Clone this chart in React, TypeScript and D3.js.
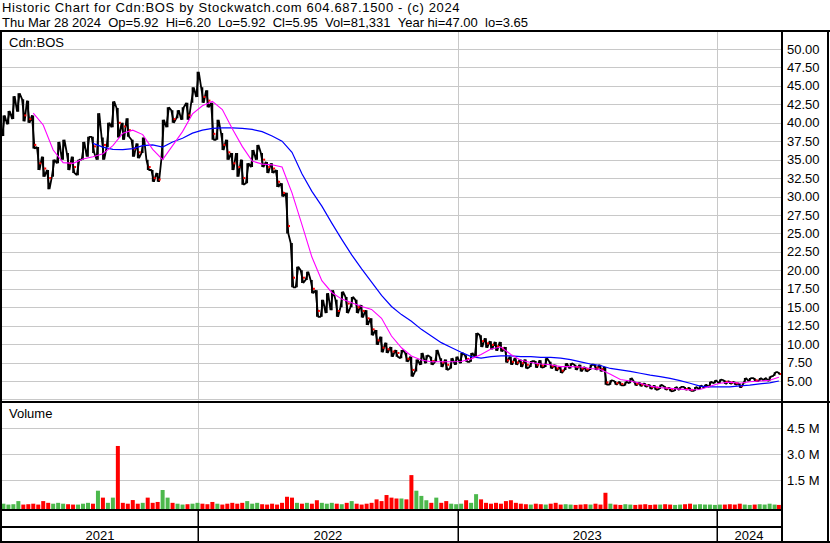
import React from "react";
import * as d3 from "d3";

const W = 830;
const H = 543;

const titleLine1 = "Historic Chart for Cdn:BOS by Stockwatch.com 604.687.1500 - (c) 2024";
const titleLine2 = "Thu Mar 28 2024  Op=5.92  Hi=6.20  Lo=5.92  Cl=5.95  Vol=81,331  Year hi=47.00  lo=3.65";
const symbolLabel = "Cdn:BOS";
const volumeLabel = "Volume";

const priceTicks = [50, 47.5, 45, 42.5, 40, 37.5, 35, 32.5, 30, 27.5, 25, 22.5, 20, 17.5, 15, 12.5, 10, 7.5, 5];
const priceGridExtra = [2.5];
const volumeTicks = [1.5, 3.0, 4.5];
const yearLabels = ["2021", "2022", "2023", "2024"];
const yearBounds = ["2021-03-31", "2022-01-01", "2023-01-01", "2024-01-01", "2024-03-31"];

const firstWeek = "2021-04-02";
const lastDay = "2024-03-28";

// weekly high / low / close (CAD)
const hi = [41.0, 41.6, 43.6, 44.0, 43.2, 43.0, 41.0, 36.7, 35.4, 33.6,
  35.0, 37.4, 37.7, 35.9, 35.4, 35.0, 37.4, 38.1, 38.1, 41.3,
  38.0, 40.0, 42.9, 42.0, 40.0, 40.6, 37.7, 37.2, 38.0, 35.0,
  33.6, 33.2, 40.4, 42.1, 41.7, 41.7, 42.1, 42.7, 44.8, 46.9,
  44.8, 44.4, 42.7, 40.4, 38.6, 37.7, 35.9, 35.9, 35.0, 34.5,
  36.3, 37.0, 35.9, 34.7, 34.5, 33.6, 31.8, 30.5, 23.7, 20.5,
  20.0, 19.8, 18.7, 17.3, 16.0, 16.9, 17.3, 16.0, 17.1, 16.4,
  16.4, 16.0, 15.3, 14.6, 13.5, 11.9, 11.0, 10.2, 9.6, 9.2,
  9.2, 8.8, 8.3, 7.9, 8.8, 8.5, 8.3, 9.2, 8.1, 7.9,
  8.1, 8.3, 8.8, 8.5, 8.8, 11.5, 11.2, 10.8, 10.4, 10.3,
  10.3, 9.6, 8.3, 8.1, 7.9, 7.9, 7.7, 7.7, 7.8, 8.1,
  7.6, 7.2, 6.9, 7.4, 7.4, 7.2, 7.2, 6.9, 7.2, 7.2,
  7.2, 6.9, 5.1, 5.0, 4.9, 4.9, 5.4, 4.9, 4.8, 4.7,
  4.5, 4.4, 4.5, 4.3, 4.1, 4.2, 4.2, 4.2, 4.1, 4.2,
  4.4, 4.5, 4.9, 5.1, 5.2, 5.1, 5.0, 4.9, 4.7, 5.4,
  5.4, 5.4, 5.4, 5.4, 5.6, 6.2, 6.2];
const lo = [38.2, 39.8, 40.5, 41.5, 40.2, 40.0, 36.5, 33.6, 32.7, 31.0,
  32.7, 34.5, 35.0, 33.6, 33.2, 32.9, 35.0, 35.4, 35.9, 35.0,
  35.0, 36.7, 39.4, 38.0, 37.7, 38.1, 35.4, 35.2, 35.9, 33.6,
  32.0, 32.0, 35.0, 39.4, 40.0, 40.6, 40.4, 40.4, 42.7, 43.5,
  42.7, 42.1, 37.7, 37.7, 36.3, 35.0, 33.6, 32.7, 31.6, 31.8,
  34.0, 35.0, 34.0, 33.2, 33.2, 31.3, 30.0, 25.0, 17.7, 17.7,
  18.3, 18.7, 16.9, 13.7, 13.7, 14.2, 14.6, 13.7, 15.0, 14.2,
  15.0, 14.2, 13.6, 12.6, 11.2, 9.9, 8.9, 8.8, 8.3, 8.3,
  8.1, 7.6, 5.6, 6.3, 7.2, 7.4, 7.2, 7.6, 6.9, 6.5,
  6.7, 7.2, 7.4, 7.6, 7.6, 8.3, 9.6, 9.5, 9.3, 9.1,
  9.0, 7.5, 7.2, 7.2, 6.9, 6.7, 6.9, 6.8, 6.8, 6.9,
  6.7, 6.4, 6.1, 6.5, 6.7, 6.5, 6.3, 6.3, 6.5, 6.5,
  6.3, 4.5, 4.5, 4.5, 4.4, 4.4, 4.7, 4.4, 4.3, 4.2,
  3.9, 3.8, 3.9, 3.8, 3.6, 3.65, 3.8, 3.8, 3.65, 3.65,
  3.9, 4.1, 4.2, 4.7, 4.7, 4.6, 4.6, 4.5, 4.1, 4.7,
  5.0, 5.0, 5.0, 5.1, 5.0, 5.7, 5.9];
const close = [39.5, 40.5, 42.5, 42.8, 41.0, 40.5, 37.0, 34.5, 33.8, 32.5,
  34.5, 36.0, 36.2, 34.5, 34.0, 34.2, 36.5, 37.0, 36.8, 38.0,
  37.0, 38.5, 41.5, 40.0, 39.5, 39.0, 36.5, 36.0, 37.0, 34.0,
  32.5, 32.3, 39.0, 41.0, 40.5, 41.0, 41.5, 41.0, 44.0, 44.5,
  43.5, 43.0, 38.5, 39.5, 37.0, 36.0, 34.5, 34.0, 32.5, 33.5,
  35.5, 36.0, 35.0, 34.0, 33.8, 32.0, 30.5, 26.0, 19.0, 19.2,
  19.0, 19.2, 17.5, 14.5, 14.8, 15.5, 16.0, 14.5, 16.0, 15.5,
  15.7, 15.0, 14.5, 13.5, 12.0, 10.5, 9.5, 9.3, 9.0, 8.8,
  8.9, 8.0, 6.5, 7.0, 8.0, 8.1, 7.7, 8.2, 7.5, 7.2,
  7.3, 7.8, 8.2, 8.0, 8.3, 10.6, 10.4, 10.1, 9.9, 9.7,
  9.4, 7.8, 7.6, 7.5, 7.4, 7.2, 7.3, 7.2, 7.1, 7.4,
  7.0, 6.7, 6.4, 6.9, 7.1, 6.9, 6.7, 6.6, 6.9, 6.8,
  6.6, 4.8, 4.8, 4.7, 4.6, 4.7, 5.0, 4.6, 4.5, 4.4,
  4.2, 4.1, 4.2, 4.0, 3.9, 3.9, 4.0, 3.9, 3.8, 4.0,
  4.2, 4.3, 4.7, 4.9, 5.0, 4.9, 4.8, 4.7, 4.3, 5.1,
  5.2, 5.1, 5.2, 5.3, 5.3, 6.0, 5.95];

// weekly volume (millions of shares)
const volume = [0.15, 0.1, 0.12, 0.3, 0.1, 0.12, 0.15, 0.1, 0.3, 0.2,
  0.15, 0.2, 0.15, 0.12, 0.1, 0.1, 0.15, 0.2, 0.15, 0.9,
  0.5, 0.2, 0.5, 3.48, 0.2, 0.15, 0.36, 0.15, 0.2, 0.5,
  0.2, 0.25, 0.94, 0.5, 0.2, 0.15, 0.1, 0.12, 0.15, 0.2,
  0.15, 0.12, 0.25, 0.15, 0.1, 0.15, 0.2, 0.15, 0.2, 0.3,
  0.15, 0.2, 0.12, 0.1, 0.15, 0.1, 0.2, 0.55, 0.5, 0.2,
  0.15, 0.2, 0.15, 0.35, 0.2, 0.15, 0.2, 0.15, 0.12, 0.2,
  0.3, 0.15, 0.1, 0.15, 0.2, 0.4, 0.3, 0.65, 0.5, 0.45,
  0.45, 0.4, 1.8, 0.9, 0.6, 0.35, 0.2, 0.5, 0.2, 0.3,
  0.15, 0.12, 0.15, 0.35, 0.2, 0.7, 0.4, 0.2, 0.15, 0.2,
  0.15, 0.3, 0.35, 0.2, 0.15, 0.12, 0.1, 0.15, 0.12, 0.1,
  0.15, 0.2, 0.1, 0.12, 0.1, 0.08, 0.1, 0.12, 0.1, 0.15,
  0.1, 0.78, 0.15, 0.1, 0.08, 0.12, 0.1, 0.08, 0.1, 0.12,
  0.08, 0.1, 0.1, 0.12, 0.1, 0.08, 0.1, 0.12, 0.15, 0.1,
  0.12, 0.1, 0.1, 0.08, 0.1, 0.1, 0.12, 0.1, 0.15, 0.1,
  0.08, 0.1, 0.12, 0.1, 0.15, 0.1, 0.08];

// moving averages, read every second week
const maFastStart = 6;
const maFast = [41.3, 39.7, 36.3, 34.6, 34.5, 35.1, 35.4, 35.8, 36.9, 38.6,
  39.0, 38.4, 36.4, 35.0, 36.9, 38.8, 41.2, 42.3, 42.9, 41.8,
  39.2, 36.8, 34.8, 34.4, 34.3, 34.0, 30.5, 26.2, 21.8, 18.6,
  17.0, 16.1, 15.6, 15.1, 14.7, 13.5, 11.1, 9.5, 8.4, 7.85,
  7.6, 7.6, 7.6, 7.65, 8.0, 8.6, 9.35, 9.6, 8.6, 7.8,
  7.5, 7.3, 7.2, 6.95, 6.95, 6.9, 6.7, 6.55, 5.9, 5.2,
  5.0, 4.7, 4.3, 4.1, 4.0, 3.9, 3.8, 3.85, 4.3, 4.7,
  4.85, 4.7, 4.9, 5.0, 5.1, 5.5];
const maSlowStart = 18;
const maSlow = [37.2, 36.7, 36.4, 36.35, 36.5, 36.9, 37.0, 36.7, 37.4, 37.9,
  38.6, 39.0, 39.25, 39.3, 39.3, 39.25, 39.1, 38.8, 38.2, 37.5,
  36.0, 33.1, 30.7, 28.7, 26.4, 24.2, 22.1, 20.2, 18.4, 16.6,
  15.1, 14.0, 13.1, 12.0, 11.1, 10.2, 9.55, 8.9, 8.3, 8.1,
  8.3, 8.4, 8.4, 8.3, 8.3, 8.2, 8.2, 8.1, 7.9, 7.6,
  7.3, 7.1, 6.7, 6.5, 6.3, 6.05, 5.8, 5.6, 5.35, 5.05,
  4.7, 4.3, 4.2, 4.2, 4.2, 4.35, 4.45, 4.6, 4.75, 5.0];

const FONT = "Arial, 'Liberation Sans', sans-serif";

function keepSpaces(s: string): string {
  return s.replace(/ {2}/g, " \u00A0");
}

export default function App() {
  const parse = d3.timeParse("%Y-%m-%d");
  const start = parse(firstWeek) as Date;
  const dates: Date[] = hi.map((_, i) =>
    i === hi.length - 1 ? (parse(lastDay) as Date) : d3.timeDay.offset(start, 7 * i)
  );
  const bounds = yearBounds.map((s) => parse(s) as Date);

  const plotL = 2;
  const plotR = 781;
  const x = d3.scaleTime().domain([bounds[0], bounds[bounds.length - 1]]).range([plotL, plotR]);
  const yP = d3.scaleLinear().domain([5, 50]).range([381, 49]);
  const yV = d3.scaleLinear().domain([0, 4.5]).range([506.3, 428.3]);

  const priceTop = 32;
  const priceBot = 400.5;
  const volTop = 403;
  const volBot = 509;

  const idx = d3.range(hi.length);

  // scribble through each week's range, in the direction of the week's move
  let scribble = "";
  idx.forEach((i) => {
    const cx = x(dates[i]);
    const up = i === 0 ? true : close[i] >= close[i - 1];
    const a = up ? yP(lo[i]) : yP(hi[i]);
    const b = up ? yP(hi[i]) : yP(lo[i]);
    scribble += (i === 0 ? "M" : "L") + (cx - 1.3) + "," + a + "L" + (cx + 1.3) + "," + b;
  });

  const fastLine = d3
    .line<number>()
    .x((v, j) => x(dates[maFastStart + 2 * j]))
    .y((v) => yP(v));
  const slowLine = d3
    .line<number>()
    .x((v, j) => x(dates[maSlowStart + 2 * j]))
    .y((v) => yP(v));

  const gridColor = "#c8c8c8";
  const innerYears = bounds.slice(1, bounds.length - 1);

  return (
    <svg width={W} height={H} style={{ display: "block", position: "absolute", left: 0, top: 0, background: "#fff" }}>
      <defs>
        <clipPath id="pclip">
          <rect x={plotL} y={priceTop} width={plotR - plotL} height={priceBot - priceTop} />
        </clipPath>
        <clipPath id="vclip">
          <rect x={plotL} y={volTop} width={plotR - plotL} height={volBot - volTop} />
        </clipPath>
      </defs>
      <rect x={0} y={0} width={W} height={H} fill="#fff" />

      {/* title */}
      <text x={2} y={12} fontFamily={FONT} fontSize={13} fill="#000" style={{ letterSpacing: "0.65px" }}>
        {titleLine1}
      </text>
      <text x={2} y={26.5} fontFamily={FONT} fontSize={13} fill="#000">
        {keepSpaces(titleLine2)}
      </text>

      {/* price grid */}
      {[...priceTicks, ...priceGridExtra].map((t) => (
        <line key={"pg" + t} x1={plotL} x2={plotR} y1={Math.round(yP(t)) + 0.5} y2={Math.round(yP(t)) + 0.5} stroke={gridColor} strokeWidth={1} />
      ))}
      {innerYears.map((d, i) => (
        <line key={"pv" + i} x1={Math.round(x(d)) + 0.5} x2={Math.round(x(d)) + 0.5} y1={priceTop} y2={priceBot} stroke={gridColor} strokeWidth={1} />
      ))}
      {/* volume grid */}
      {volumeTicks.map((t) => (
        <line key={"vg" + t} x1={plotL} x2={plotR} y1={Math.round(yV(t)) + 0.5} y2={Math.round(yV(t)) + 0.5} stroke={gridColor} strokeWidth={1} />
      ))}
      {innerYears.map((d, i) => (
        <line key={"vv" + i} x1={Math.round(x(d)) + 0.5} x2={Math.round(x(d)) + 0.5} y1={volTop} y2={volBot} stroke={gridColor} strokeWidth={1} />
      ))}

      <text x={9} y={46.5} fontFamily={FONT} fontSize={13} fill="#000">{symbolLabel}</text>
      <text x={9} y={418} fontFamily={FONT} fontSize={13} fill="#000">{volumeLabel}</text>

      {/* price bars */}
      <g clipPath="url(#pclip)">
        <path d={scribble} fill="none" stroke="#000" strokeWidth={1.8} strokeLinejoin="bevel" />
        {idx.map((i) => (
          <line key={"b" + i} x1={x(dates[i])} x2={x(dates[i])} y1={yP(hi[i])} y2={yP(lo[i])} stroke="#000" strokeWidth={1.7} />
        ))}
        {idx.map((i) =>
          i > 0 && close[i] < close[i - 1] ? (
            <rect key={"c" + i} x={x(dates[i]) + 1} y={yP(close[i]) - 1} width={2} height={2} fill="#ff0000" />
          ) : null
        )}
        <path d={slowLine(maSlow) || ""} fill="none" stroke="#0000ff" strokeWidth={1.2} />
        <path d={fastLine(maFast) || ""} fill="none" stroke="#ff00ff" strokeWidth={1.1} />
      </g>

      {/* volume bars */}
      <g clipPath="url(#vclip)">
        {idx.map((i) => {
          const up = i === 0 ? true : close[i] >= close[i - 1];
          const top = yV(volume[i]);
          return (
            <rect key={"v" + i} x={x(dates[i]) - 2} y={top} width={4} height={volBot - top} fill={up ? "#4cb84c" : "#ff0000"} />
          );
        })}
      </g>

      {/* axis labels */}
      {priceTicks.map((t) => (
        <text key={"pl" + t} x={787} y={yP(t) + 4.5} fontFamily={FONT} fontSize={13} fill="#000">
          {t.toFixed(2)}
        </text>
      ))}
      {volumeTicks.map((t) => (
        <text key={"vl" + t} x={787} y={yV(t) + 4.5} fontFamily={FONT} fontSize={13} fill="#000">
          {t.toFixed(1) + " M"}
        </text>
      ))}
      {yearLabels.map((lab, i) => (
        <text key={"yl" + lab} x={(x(bounds[i]) + x(bounds[i + 1])) / 2} y={539.5} textAnchor="middle" fontFamily={FONT} fontSize={13} fill="#000">
          {lab}
        </text>
      ))}

      {/* frame */}
      <rect x={0} y={30} width={W} height={2} fill="#000" />
      <rect x={0} y={30} width={2} height={513} fill="#000" />
      <rect x={781} y={30} width={2} height={513} fill="#000" />
      <rect x={827} y={30} width={2} height={513} fill="#000" />
      <rect x={0} y={401} width={W} height={2} fill="#000" />
      <rect x={0} y={509} width={783} height={2} fill="#000" />
      <rect x={0} y={526} width={783} height={2} fill="#000" />
      <rect x={0} y={541} width={W} height={2} fill="#000" />
      {innerYears.map((d, i) => (
        <rect key={"yd" + i} x={Math.round(x(d)) - 0.5} y={510} width={1.5} height={32} fill="#000" />
      ))}
    </svg>
  );
}
